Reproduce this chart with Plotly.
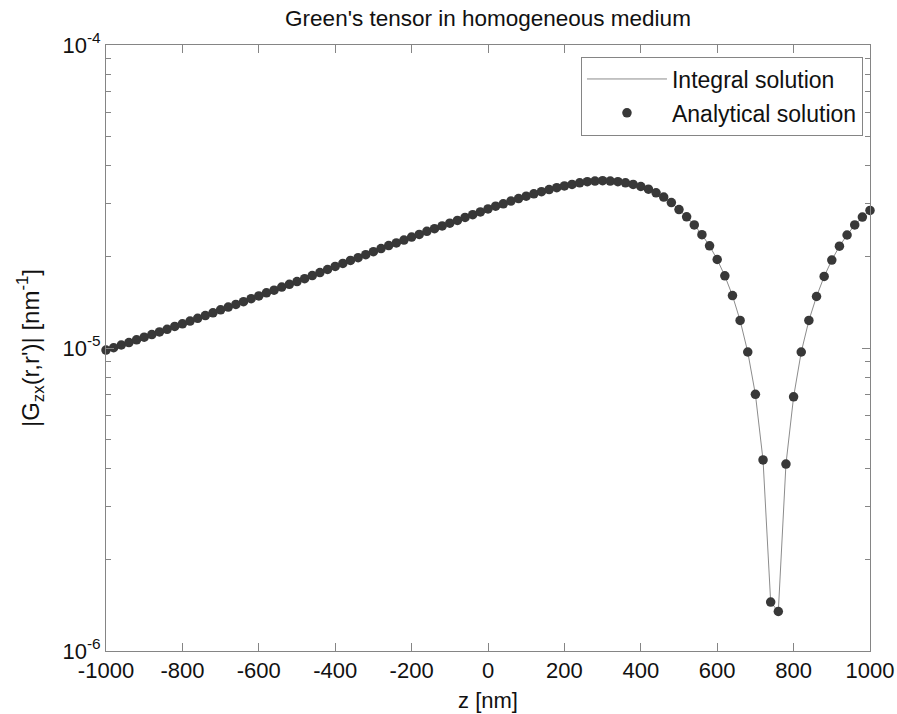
import plotly.graph_objects as go

# z positions [nm]
z_nm = list(range(-1000, 1001, 20))

# |G_zx(r,r')| [nm^-1]
g_values = [
    9.84e-6, 1.002e-5, 1.023e-5, 1.042e-5, 1.064e-5, 1.086e-5, 1.107e-5, 1.130e-5, 1.153e-5, 1.178e-5,
    1.202e-5, 1.227e-5, 1.253e-5, 1.279e-5, 1.306e-5, 1.337e-5, 1.365e-5, 1.393e-5, 1.422e-5, 1.455e-5,
    1.486e-5, 1.521e-5, 1.552e-5, 1.589e-5, 1.622e-5, 1.656e-5, 1.694e-5, 1.734e-5, 1.774e-5, 1.816e-5,
    1.858e-5, 1.901e-5, 1.945e-5, 1.986e-5, 2.032e-5, 2.080e-5, 2.128e-5, 2.178e-5, 2.223e-5, 2.270e-5,
    2.323e-5, 2.371e-5, 2.427e-5, 2.477e-5, 2.529e-5, 2.582e-5, 2.636e-5, 2.698e-5, 2.754e-5, 2.812e-5,
    2.877e-5, 2.938e-5, 2.992e-5, 3.055e-5, 3.112e-5, 3.170e-5, 3.228e-5, 3.281e-5, 3.334e-5, 3.381e-5,
    3.428e-5, 3.467e-5, 3.508e-5, 3.540e-5, 3.556e-5, 3.565e-5, 3.556e-5, 3.540e-5, 3.508e-5, 3.467e-5,
    3.412e-5, 3.342e-5, 3.251e-5, 3.148e-5, 3.020e-5, 2.864e-5, 2.710e-5, 2.547e-5, 2.366e-5, 2.173e-5,
    1.959e-5, 1.730e-5, 1.489e-5, 1.233e-5, 9.70e-6, 7.03e-6, 4.27e-6, 1.45e-6, 1.35e-6, 4.14e-6,
    6.90e-6, 9.70e-6, 1.233e-5, 1.479e-5, 1.722e-5, 1.950e-5, 2.168e-5, 2.360e-5, 2.547e-5, 2.704e-5,
    2.844e-5,
]
integral_solution = g_values
analytical_solution = g_values

x_tick_vals = [-1000, -800, -600, -400, -200, 0, 200, 400, 600, 800, 1000]
x_tick_text = ["-1000", "-800", "-600", "-400", "-200", "0", "200", "400", "600", "800", "1000"]
y_tick_vals = [1e-6, 1e-5, 1e-4]
y_tick_text = ["10<sup>-6</sup>", "10<sup>-5</sup>", "10<sup>-4</sup>"]
y_minor_vals = [m * 10 ** e for e in (-6, -5) for m in range(2, 10)]

FONT = "Liberation Sans, Arial, Helvetica, sans-serif"
AXC = "#858585"
TXT = "#111111"

fig = go.Figure()
fig.add_trace(go.Scatter(
    x=z_nm, y=integral_solution, mode="lines", name="Integral solution",
    line=dict(color="#8c8c8c", width=1), legendgroup="a", cliponaxis=False,
))
fig.add_trace(go.Scatter(
    x=z_nm, y=analytical_solution, mode="markers", name="Analytical solution",
    marker=dict(color="#383838", size=9.5, line=dict(width=0)), legendgroup="b",
    cliponaxis=False,
))

fig.update_layout(
    width=897, height=714,
    margin=dict(l=106, r=27, t=45, b=63),
    paper_bgcolor="white", plot_bgcolor="white",
    font=dict(family=FONT, size=22, color=TXT),
    title=dict(text="Green's tensor in homogeneous medium", x=0.5, xref="paper",
               y=1 - 18 / 714, yref="container", yanchor="middle", xanchor="center",
               font=dict(size=22.5, family=FONT, color=TXT)),
    legend=dict(x=0.9908, y=0.981, xanchor="right", yanchor="top",
                bgcolor="white", bordercolor=AXC, borderwidth=1,
                font=dict(size=23, family=FONT, color=TXT),
                itemwidth=80, tracegroupgap=1),
    showlegend=True,
)
fig.update_xaxes(
    range=[-1000, 1000], tickvals=x_tick_vals, ticktext=x_tick_text,
    showgrid=False, zeroline=False, showline=True, linecolor=AXC, linewidth=1,
    mirror="ticks", ticks="inside", ticklen=8, tickcolor=AXC, automargin=False,
    tickfont=dict(size=22, family=FONT, color=TXT),
    title=dict(text="z [nm]", font=dict(size=22, family=FONT, color=TXT), standoff=10),
)
fig.update_yaxes(
    type="log", range=[-6, -4], tickvals=y_tick_vals, ticktext=y_tick_text,
    showgrid=False, zeroline=False, showline=True, linecolor=AXC, linewidth=1,
    mirror="ticks", ticks="inside", ticklen=8, tickcolor=AXC, automargin=False,
    tickfont=dict(size=22, family=FONT, color=TXT),
    minor=dict(tickvals=y_minor_vals, ticks="inside", ticklen=5, tickcolor=AXC, showgrid=False),
    title=dict(text="|G<sub>zx</sub>(r,r')| [nm<sup>-1</sup>]",
               font=dict(size=24, family=FONT, color=TXT), standoff=16),
)

fig.write_html("out.html")
